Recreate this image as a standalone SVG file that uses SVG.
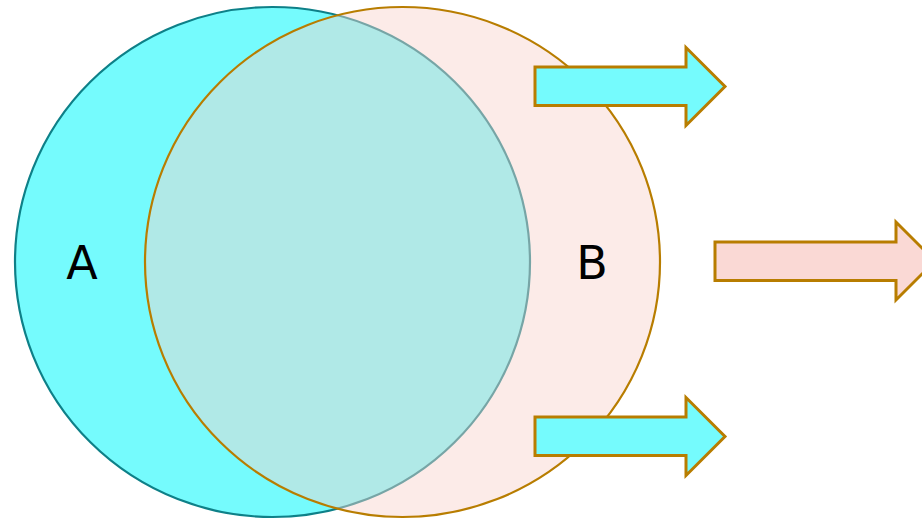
<svg xmlns="http://www.w3.org/2000/svg" width="922" height="519" viewBox="0 0 922 519">
<style>
.lbl{font-family:"DejaVu Sans",sans-serif;font-size:46px;fill:#000;text-anchor:middle}
.arr{stroke:#B87D00;stroke-width:3;stroke-linejoin:miter}
.cy{fill:#75FBFD}
.pk{fill:#FAD9D5}
</style>
<rect width="922" height="519" fill="#fff"/>
<g id="circleA">
<ellipse cx="272.5" cy="262" rx="257.5" ry="255" fill="#75FBFD" stroke="#0E8088" stroke-width="2.2"/>
</g>
<g id="circleB">
<ellipse cx="402.5" cy="262" rx="257.5" ry="255" fill="#F8D2CD" fill-opacity="0.45" stroke="#B87D00" stroke-width="2.2"/>
</g>
<g id="labelA"><text class="lbl" x="82" y="279">A</text></g>
<g id="labelB"><text class="lbl" x="592" y="279">B</text></g>
<g id="connectors">
<g id="arrowTop"><path class="arr cy" d="M535,67 H686 V47.5 L725,86.5 L686,125.5 V105.5 H535 Z"/></g>
<g id="arrowMid"><path class="arr pk" d="M715,242 H896 V222 L935,261 L896,300 V280.5 H715 Z"/></g>
<g id="arrowBot"><path class="arr cy" d="M535,417 H686 V397.5 L725,436.5 L686,475.5 V455.5 H535 Z"/></g>
</g>
</svg>
